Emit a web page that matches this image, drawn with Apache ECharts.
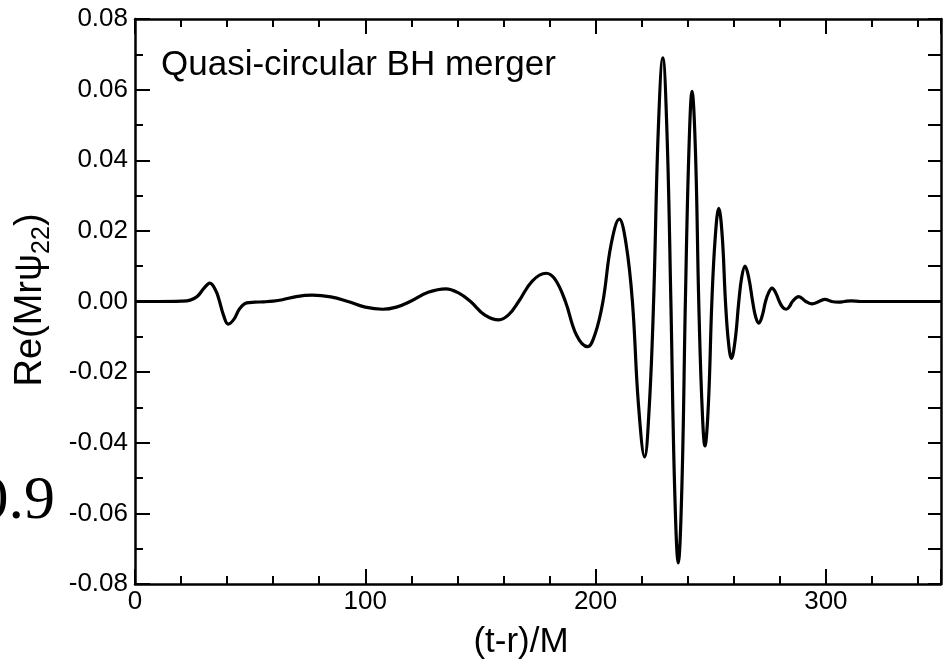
<!DOCTYPE html>
<html>
<head>
<meta charset="utf-8">
<script src="https://cdn.jsdelivr.net/npm/echarts@6/dist/echarts.min.js"></script>
<style>
html,body{margin:0;padding:0;background:#fff;}
#chart{width:948px;height:662px;}
</style>
</head>
<body>
<div id="chart"></div>
<script>
// Time (t-r)/M
const tValues = [
  0, 10, 20, 24, 27, 30, 32.5, 35, 36.5, 38.5, 40.5, 43, 45.5, 48.5, 52, 56, 60, 64, 70, 77,
  85, 92.5, 100, 107.5, 113.5, 119.5, 127.3, 135, 140.3, 145.7, 151.8, 158, 162.3, 166.6, 172.5, 178.5,
  182.5, 186.9, 191.7, 196.5, 199.8, 203.2, 206.7, 210.3, 213.2, 216.0, 218.6, 221.3,
  223.3, 225.2, 227.2, 229.2, 231.0, 232.7, 234.3, 235.9, 237.5, 239.0, 240.5, 241.9, 243.4, 244.8,
  246.2, 247.5, 249.0, 250.5, 252.0, 253.5, 255.0, 256.4, 257.7, 259.0, 260.6, 262.2, 263.5, 264.9,
  266.5, 268.2, 269.5, 270.9, 272.3, 273.8, 275.2, 276.6, 278.2, 279.8, 281.2, 282.7, 284.1, 285.5,
  288.2, 291.3, 294.1, 297.0, 299.6, 302.5, 305.4, 308, 311, 315, 330, 350
];
// Re(M r psi_22)
const reValues = [
  0, 0, 0.0001, 0.0004, 0.0014, 0.0038, 0.0052, 0.0032, 0.0005, -0.0040, -0.0064, -0.0050, -0.0020, -0.0004, -0.0002, -0.0001, 0.0001, 0.0005, 0.0014, 0.0018,
  0.0013, 0, -0.0016, -0.0022, -0.0016, 0, 0.0026, 0.0036, 0.0025, 0, -0.0038, -0.0052, -0.0037, 0, 0.0058, 0.0080,
  0.0062, 0, -0.0095, -0.0128, -0.0092, 0, 0.0160, 0.0233, 0.0165, 0, -0.0290, -0.0440,
  -0.0300, 0, 0.0480, 0.0690, 0.0480, 0, -0.0520, -0.0740, -0.0520, 0, 0.0420, 0.0595, 0.0420, 0,
  -0.0290, -0.0409, -0.0290, 0, 0.0185, 0.0264, 0.0185, 0, -0.0115, -0.0161, -0.0110, 0, 0.0070, 0.0100,
  0.0068, 0, -0.0043, -0.0061, -0.0042, 0, 0.0026, 0.0038, 0.0025, 0, -0.0016, -0.0022, -0.0015, 0,
  0.0014, 0, -0.0007, 0, 0.0006, 0, -0.0002, 0, 0.0002, 0, 0, 0
];
const xTicks = [0, 100, 200, 300];
const yTicks = [-0.08, -0.06, -0.04, -0.02, 0.00, 0.02, 0.04, 0.06, 0.08];
const titleText = 'Quasi-circular BH merger';
const xName = '(t-r)/M';

const data = tValues.map((t, i) => [t, reValues[i]]);
const FONT = 'Liberation Sans';
const fmtY = v => (Math.abs(v) < 1e-9 ? '0.00' : v.toFixed(2));

const chart = echarts.init(document.getElementById('chart'), null, {renderer: 'canvas'});
chart.setOption({
  animation: false,
  backgroundColor: '#ffffff',
  grid: {left: 135, right: 7, top: 19, bottom: 78, containLabel: false},
  xAxis: [{
    type: 'value', min: 0, max: 350, interval: 100, position: 'bottom',
    axisLine: {show: true, onZero: false, lineStyle: {color: '#000', width: 2.5}},
    axisTick: {show: true, inside: true, length: 15, lineStyle: {color: '#000', width: 2}},
    minorTick: {show: true, splitNumber: 5, length: 8, lineStyle: {color: '#000', width: 2}},
    axisLabel: {show: true, margin: 5, fontFamily: FONT, fontSize: 26, color: '#000',
      formatter: v => xTicks.includes(v) ? String(v) : ''},
    splitLine: {show: false}
  }, {
    type: 'value', min: 0, max: 350, interval: 100, position: 'top',
    axisLine: {show: true, onZero: false, lineStyle: {color: '#000', width: 2.5}},
    axisTick: {show: true, inside: true, length: 15, lineStyle: {color: '#000', width: 2}},
    minorTick: {show: true, splitNumber: 5, length: 8, lineStyle: {color: '#000', width: 2}},
    axisLabel: {show: false},
    splitLine: {show: false}
  }],
  yAxis: [{
    type: 'value', min: -0.08, max: 0.08, interval: 0.02, position: 'left',
    axisLine: {show: true, onZero: false, lineStyle: {color: '#000', width: 2.5}},
    axisTick: {show: true, inside: true, length: 15, lineStyle: {color: '#000', width: 2}},
    minorTick: {show: true, splitNumber: 2, length: 8, lineStyle: {color: '#000', width: 2}},
    axisLabel: {show: true, margin: 7, fontFamily: FONT, fontSize: 26, color: '#000', formatter: fmtY},
    splitLine: {show: false}
  }, {
    type: 'value', min: -0.08, max: 0.08, interval: 0.01, position: 'right',
    axisLine: {show: true, onZero: false, lineStyle: {color: '#000', width: 2.5}},
    axisTick: {show: true, inside: true, length: 13, lineStyle: {color: '#000', width: 2}},
    axisLabel: {show: false},
    splitLine: {show: false}
  }],
  series: [{
    type: 'line', xAxisIndex: 0, yAxisIndex: 0,
    data: data, showSymbol: false, smooth: 0.4,
    lineStyle: {color: '#000', width: 3.2},
    z: 5
  }],
  graphic: [
    {type: 'text', x: 161, y: 65,
      style: {text: titleText, font: '35px "Liberation Sans"', fill: '#000', align: 'left', verticalAlign: 'middle'}},
    {type: 'text', x: 521, y: 642, style: {text: xName, font: '35px "Liberation Sans"', fill: '#000', align: 'center', verticalAlign: 'middle'}},
    {type: 'text', x: 31, y: 300, rotation: Math.PI / 2,
      style: {text: '{a|Re(Mrψ}{s|22}{a|)}', align: 'center', verticalAlign: 'middle', fill: '#000',
        rich: {
          a: {fontFamily: FONT, fontSize: 38, fill: '#000'},
          s: {fontFamily: FONT, fontSize: 25, fill: '#000', padding: [23, 0, 0, 0], verticalAlign: 'bottom'}
        }}},
    {type: 'text', x: 55, y: 502, style: {text: '0.9', font: '62px "Liberation Serif"', fill: '#000', align: 'right', verticalAlign: 'middle'}}
  ]
});
</script>
</body>
</html>
